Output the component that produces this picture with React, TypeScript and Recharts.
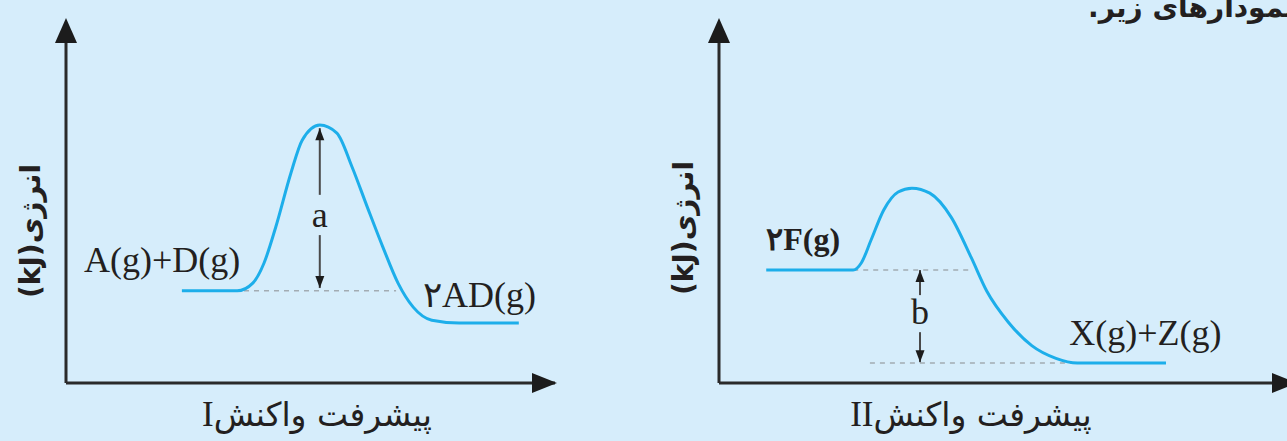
import React from 'react';
import { LineChart, Line, XAxis, YAxis, ReferenceLine, ReferenceDot } from 'recharts';

// Reaction I (progress 0-100, energy 0-100 in arbitrary units)
const progressI = [23.7, 35.0, 38.2, 40.5, 42.9, 46.0, 48.3, 51.9, 55.4, 58.5, 61.6, 64.8, 67.9, 71.0, 74.8, 80.4, 92.6];
const energyI = [26.1, 26.1, 28.3, 34.0, 44.2, 59.5, 68.8, 73.1, 70.8, 61.2, 49.9, 38.5, 28.3, 21.5, 17.8, 17.0, 17.0];

// Reaction II
const progressII = [8.2, 23.3, 24.7, 26.4, 28.6, 31.1, 33.5, 36.6, 40.3, 43.8, 46.5, 50.2, 54.3, 58.5, 62.2, 77.6];
const energyII = [32.0, 32.0, 34.0, 40.5, 49.0, 54.1, 55.2, 53.8, 47.0, 35.5, 26.0, 17.3, 10.6, 7.0, 5.7, 5.7];

const yAxisTitle = 'انرژی(kJ)';
const xAxisTitleFa = 'پیشرفت واکنش';
const xAxisNumI = 'I';
const xAxisNumII = 'II';
const topText = 'نمودارهای زیر.';

const dataI = progressI.map((x, i) => ({ x, y: energyI[i] }));
const dataII = progressII.map((x, i) => ({ x, y: energyII[i] }));

const BG = '#d6edfb';
const CURVE = '#1daeea';
const AXIS = '#2a2a2a';
const DASH = '#a3acb3';
const SHAFT = '#4a4a4a';
const TEXT = '#231f20';
const SERIF = '"Liberation Serif", "DejaVu Serif", serif';
const PERSIAN = '"DejaVu Sans", sans-serif';

const UpAxisHead = (p: any) => (
  <polygon points={`${p.cx},${p.cy - 12} ${p.cx - 11},${p.cy + 13} ${p.cx + 11},${p.cy + 13}`} fill="#1c1c1c" />
);
const RightAxisHead = (p: any) => (
  <polygon points={`${p.cx + 2},${p.cy} ${p.cx - 23},${p.cy - 10} ${p.cx - 23},${p.cy + 10}`} fill="#1c1c1c" />
);
const UpHead = (p: any) => (
  <polygon points={`${p.cx},${p.cy} ${p.cx - 4.5},${p.cy + 12} ${p.cx + 4.5},${p.cy + 12}`} fill="#1c1c1c" />
);
const DownHead = (p: any) => (
  <polygon points={`${p.cx},${p.cy} ${p.cx - 4.5},${p.cy - 12} ${p.cx + 4.5},${p.cy - 12}`} fill="#1c1c1c" />
);
const textShape = (txt: string, anchor: string, bold = false, size = 36) => (p: any) => (
  <text
    x={p.cx}
    y={p.cy}
    textAnchor={anchor}
    dominantBaseline={anchor === 'middle' ? 'central' : 'alphabetic'}
    fontFamily={SERIF}
    fontSize={size}
    fontWeight={bold ? 'bold' : 'normal'}
    fill={TEXT}
  >
    {txt}
  </text>
);

const axesParts = (
  <>
    <XAxis type="number" dataKey="x" domain={[0, 100]} allowDataOverflow hide />
    <YAxis type="number" domain={[0, 100]} allowDataOverflow hide />
    <ReferenceLine segment={[{ x: 0, y: 0 }, { x: 0, y: 100 }]} stroke={AXIS} strokeWidth={3} ifOverflow="visible" />
    <ReferenceLine segment={[{ x: 0, y: 0 }, { x: 100, y: 0 }]} stroke={AXIS} strokeWidth={3} ifOverflow="visible" />
  </>
);

const yTitle = (left: number, top: number): React.ReactNode => (
  <div
    style={{
      position: 'absolute',
      left,
      top,
      transform: 'translate(-50%, -50%) rotate(-90deg)',
      whiteSpace: 'nowrap',
      direction: 'rtl',
      fontFamily: PERSIAN,
      fontWeight: 'bold',
      fontSize: 28,
      color: TEXT,
      lineHeight: 1,
    }}
  >
    {yAxisTitle}
  </div>
);

const xTitle = (num: string, left: number, top: number): React.ReactNode => (
  <div
    style={{
      position: 'absolute',
      left,
      top,
      transform: 'translate(-50%, -50%)',
      whiteSpace: 'nowrap',
      direction: 'rtl',
      fontFamily: PERSIAN,
      fontSize: 33,
      color: TEXT,
      lineHeight: 1,
    }}
  >
    {xAxisTitleFa}
    <span style={{ fontFamily: SERIF, fontSize: 35 }}>{num}</span>
  </div>
);

export default function App() {
  return (
    <div style={{ position: 'absolute', left: 0, top: 0, width: 1287, height: 441, background: BG, overflow: 'hidden' }}>
      <div style={{ position: 'absolute', left: 0, top: 0 }}>
        <LineChart width={600} height={441} data={dataI} margin={{ top: 30, left: 66, right: 45, bottom: 58 }}>
          {axesParts}
          <ReferenceLine segment={[{ x: 36.4, y: 26.1 }, { x: 67.5, y: 26.1 }]} stroke={DASH} strokeWidth={1.5} strokeDasharray="5 5" />
          <Line dataKey="y" type="monotone" stroke={CURVE} strokeWidth={3} dot={false} isAnimationActive={false} />
          <ReferenceLine segment={[{ x: 51.9, y: 72.2 }, { x: 51.9, y: 53.3 }]} stroke={SHAFT} strokeWidth={2} />
          <ReferenceLine segment={[{ x: 51.9, y: 41.9 }, { x: 51.9, y: 26.9 }]} stroke={SHAFT} strokeWidth={2} />
          <ReferenceDot x={51.9} y={72.2} ifOverflow="visible" shape={UpHead} />
          <ReferenceDot x={51.9} y={26.9} ifOverflow="visible" shape={DownHead} />
          <ReferenceDot x={51.9} y={47.6} ifOverflow="visible" shape={textShape('a', 'middle')} />
          <ReferenceDot x={3.7} y={31.4} ifOverflow="visible" shape={textShape('A(g)+D(g)', 'start')} />
          <ReferenceDot x={73.0} y={21.5} ifOverflow="visible" shape={textShape('۲AD(g)', 'start')} />
          <ReferenceDot x={0} y={100} ifOverflow="visible" shape={UpAxisHead} />
          <ReferenceDot x={100} y={0} ifOverflow="visible" shape={RightAxisHead} />
        </LineChart>
      </div>
      <div style={{ position: 'absolute', left: 640, top: 0 }}>
        <LineChart width={660} height={441} data={dataII} margin={{ top: 30, left: 79, right: 5, bottom: 58 }}>
          {axesParts}
          <ReferenceLine segment={[{ x: 23.3, y: 32.0 }, { x: 43.8, y: 32.0 }]} stroke={DASH} strokeWidth={1.5} strokeDasharray="5 5" />
          <ReferenceLine segment={[{ x: 26.2, y: 5.7 }, { x: 61.6, y: 5.7 }]} stroke={DASH} strokeWidth={1.5} strokeDasharray="5 5" />
          <Line dataKey="y" type="monotone" stroke={CURVE} strokeWidth={3} dot={false} isAnimationActive={false} />
          <ReferenceLine segment={[{ x: 34.9, y: 32.0 }, { x: 34.9, y: 24.9 }]} stroke={SHAFT} strokeWidth={2} />
          <ReferenceLine segment={[{ x: 34.9, y: 14.4 }, { x: 34.9, y: 5.9 }]} stroke={SHAFT} strokeWidth={2} />
          <ReferenceDot x={34.9} y={32.0} ifOverflow="visible" shape={UpHead} />
          <ReferenceDot x={34.9} y={5.9} ifOverflow="visible" shape={DownHead} />
          <ReferenceDot x={34.9} y={20.1} ifOverflow="visible" shape={textShape('b', 'middle')} />
          <ReferenceDot x={8.2} y={37.7} ifOverflow="visible" shape={textShape('۲F(g)', 'start', true, 32)} />
          <ReferenceDot x={60.8} y={10.8} ifOverflow="visible" shape={textShape('X(g)+Z(g)', 'start')} />
          <ReferenceDot x={0} y={100} ifOverflow="visible" shape={UpAxisHead} />
          <ReferenceDot x={100} y={0} ifOverflow="visible" shape={RightAxisHead} />
        </LineChart>
      </div>
      {yTitle(31, 231)}
      {yTitle(684, 228)}
      {xTitle(xAxisNumI, 317, 414)}
      {xTitle(xAxisNumII, 971, 414)}
      <div
        style={{
          position: 'absolute',
          left: 1088,
          top: -9,
          whiteSpace: 'nowrap',
          direction: 'rtl',
          fontFamily: PERSIAN,
          fontWeight: 'bold',
          fontSize: 28,
          color: TEXT,
          lineHeight: 1.2,
        }}
      >
        {topText}
      </div>
    </div>
  );
}
